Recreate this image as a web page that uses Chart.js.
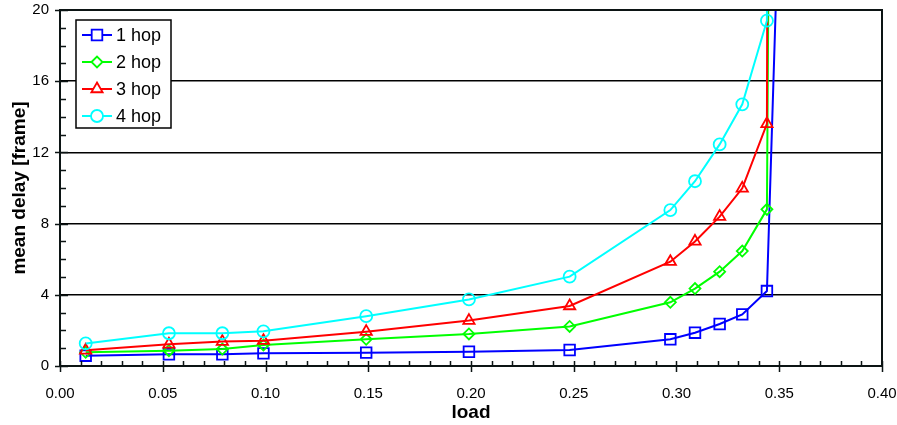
<!DOCTYPE html>
<html>
<head>
<meta charset="utf-8">
<script src="https://cdn.jsdelivr.net/npm/chart.js@4/dist/chart.umd.min.js"></script>
<style>
  html, body { margin: 0; padding: 0; background: #fff; }
  #wrap { width: 897px; height: 425px; }
</style>
</head>
<body>
<div id="wrap"><canvas id="c"></canvas></div>
<script>
// Offered load at each measured operating point
const load = [0.0125, 0.053, 0.079, 0.099, 0.149, 0.199, 0.248, 0.297, 0.309, 0.321, 0.332, 0.344];

// Mean delay [frame] per hop count
const hop1 = [0.58, 0.66, 0.66, 0.71, 0.75, 0.80, 0.90, 1.50, 1.87, 2.36, 2.90, 4.21];
const hop2 = [0.77, 0.86, 0.95, 1.18, 1.50, 1.80, 2.22, 3.58, 4.35, 5.30, 6.46, 8.80];
const hop3 = [0.88, 1.22, 1.37, 1.42, 1.93, 2.55, 3.37, 5.86, 7.00, 8.39, 9.98, 13.6];
const hop4 = [1.27, 1.84, 1.84, 1.95, 2.80, 3.74, 5.02, 8.76, 10.38, 12.45, 14.7, 19.4];

// Saturation point of each curve (delay grows past the top of the axis)
const saturationLoad  = [0.3500, 0.3452, 0.3444, 0.3443];
const saturationDelay = [26.5, 30, 30, 30];

const seriesNames = ['1 hop', '2 hop', '3 hop', '4 hop'];
const seriesDelay = [hop1, hop2, hop3, hop4];

// Axis ticks
const xTicks = [0.00, 0.05, 0.10, 0.15, 0.20, 0.25, 0.30, 0.35, 0.40];
const yTicks = [0, 4, 8, 12, 16, 20];
const xMinorStep = 0.01;
const yMinorStep = 1;

const colors = ['#0000ff', '#00ff00', '#ff0000', '#00ffff'];
const markers = ['rect', 'rectRot', 'triangle', 'circle'];
const markerRadius = [7.5, 5.5, 6.5, 6];

const FONT = "'Liberation Sans', Arial, sans-serif";

const datasets = seriesNames.map((name, i) => {
  const pts = load.map((x, k) => ({ x: x, y: seriesDelay[i][k] }));
  pts.push({ x: saturationLoad[i], y: saturationDelay[i] });
  return {
    label: name,
    data: pts,
    borderColor: colors[i],
    borderWidth: 2,
    pointStyle: markers[i],
    pointRadius: markerRadius[i],
    pointBorderColor: colors[i],
    pointBackgroundColor: 'rgba(0,0,0,0)',
    pointBorderWidth: 1.8,
    tension: 0,
    order: seriesNames.length - i
  };
});

// Minor/major tick marks along the axes and the outer frame of the plot
const axisFrame = {
  id: 'axisFrame',
  afterDatasetsDraw(chart) {
    const { ctx, chartArea: a, scales: { x, y } } = chart;
    ctx.save();
    ctx.strokeStyle = '#0c1414';
    ctx.lineWidth = 1.5;
    ctx.beginPath();
    const nx = Math.round((x.max - x.min) / xMinorStep);
    for (let k = 0; k <= nx; k++) {
      const v = x.min + k * xMinorStep;
      const px = Math.round(x.getPixelForValue(v)) + 0.5;
      const major = xTicks.some(t => Math.abs(t - v) < 1e-9);
      ctx.moveTo(px, a.bottom - 5);
      ctx.lineTo(px, a.bottom + (major ? 6 : 0));
    }
    const ny = Math.round((y.max - y.min) / yMinorStep);
    for (let k = 0; k <= ny; k++) {
      const v = y.min + k * yMinorStep;
      const py = Math.round(y.getPixelForValue(v)) + 0.5;
      const major = yTicks.includes(v);
      ctx.moveTo(a.left - (major ? 5 : 0), py);
      ctx.lineTo(a.left + (major ? 8 : 6), py);
    }
    ctx.stroke();
    ctx.lineWidth = 2;
    ctx.strokeRect(a.left, a.top, a.right - a.left, a.bottom - a.top);
    ctx.restore();
  }
};

// Boxed legend inside the plot, each entry showing line + marker
const boxLegend = {
  id: 'boxLegend',
  afterDraw(chart) {
    const { ctx, chartArea: a } = chart;
    const left = a.left + 16, top = a.top + 10, w = 95, h = 108;
    const rowH = 27;
    ctx.save();
    ctx.fillStyle = '#fff';
    ctx.fillRect(left, top, w, h);
    ctx.strokeStyle = '#000';
    ctx.lineWidth = 1.5;
    ctx.strokeRect(left, top, w, h);
    chart.data.datasets.forEach((ds, i) => {
      const cy = top + 15 + i * rowH;
      ctx.strokeStyle = ds.borderColor;
      ctx.lineWidth = 2;
      ctx.beginPath();
      ctx.moveTo(left + 6, cy);
      ctx.lineTo(left + 36, cy);
      ctx.stroke();
      ctx.lineWidth = ds.pointBorderWidth;
      ctx.fillStyle = '#fff';
      Chart.helpers.drawPoint(ctx, {
        pointStyle: ds.pointStyle, radius: ds.pointRadius, rotation: 0,
        borderWidth: ds.pointBorderWidth
      }, left + 21, cy);
      ctx.fillStyle = '#000';
      ctx.font = '18px ' + FONT;
      ctx.textBaseline = 'middle';
      ctx.textAlign = 'left';
      ctx.fillText(ds.label, left + 40, cy + 1);
    });
    ctx.restore();
  }
};

new Chart(document.getElementById('c'), {
  type: 'line',
  data: { datasets },
  options: {
    responsive: true,
    maintainAspectRatio: false,
    animation: false,
    events: [],
    layout: { padding: { left: 0, right: 15, top: 10, bottom: 0 } },
    plugins: { legend: { display: false }, tooltip: { enabled: false } },
    scales: {
      x: {
        type: 'linear',
        min: 0, max: 0.4,
        afterBuildTicks: s => { s.ticks = xTicks.map(v => ({ value: v })); },
        afterFit: s => { s.height = 59; s.paddingLeft = 0; s.paddingRight = 0; },
        grid: { display: true, drawOnChartArea: false, drawTicks: false },
        border: { display: true, color: '#0c1414', width: 2 },
        ticks: {
          padding: 19,
          color: '#000',
          font: { family: FONT, size: 15 },
          maxRotation: 0,
          callback: v => Number(v).toFixed(2)
        },
        title: {
          display: true, text: 'load', color: '#000',
          font: { family: FONT, size: 19, weight: 'bold', lineHeight: 1.2 },
          padding: { top: 0, bottom: 1 }
        }
      },
      y: {
        type: 'linear',
        min: 0, max: 20,
        afterBuildTicks: s => { s.ticks = yTicks.map(v => ({ value: v })); },
        afterFit: s => { s.width = 60; s.paddingTop = 0; s.paddingBottom = 0; },
        grid: { color: '#000', lineWidth: 1.5, drawTicks: false },
        border: { display: true, color: '#0c1414', width: 2 },
        ticks: {
          padding: 11,
          color: '#000',
          font: { family: FONT, size: 15 },
          callback: v => String(v)
        },
        title: {
          display: true, text: 'mean delay [frame]', color: '#000',
          font: { family: FONT, size: 19, weight: 'bold', lineHeight: 1.2 },
          padding: { top: 8, bottom: 0 }
        }
      }
    }
  },
  plugins: [axisFrame, boxLegend]
});
</script>
</body>
</html>
